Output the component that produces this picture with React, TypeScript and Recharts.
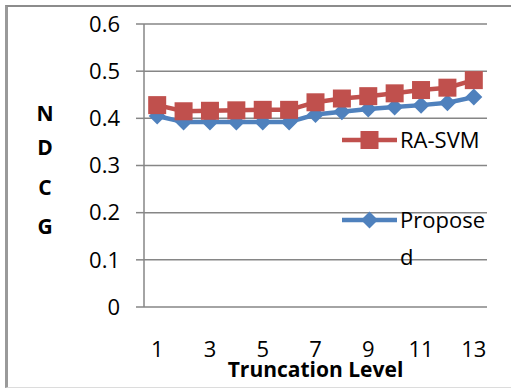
import React from 'react';
import { LineChart, Line, XAxis, YAxis, CartesianGrid } from 'recharts';

// Chart data
const levels = [1, 2, 3, 4, 5, 6, 7, 8, 9, 10, 11, 12, 13];
const raSvm = [0.428, 0.415, 0.416, 0.417, 0.418, 0.418, 0.434, 0.442, 0.447, 0.453, 0.46, 0.465, 0.481];
const proposed = [0.405, 0.392, 0.392, 0.392, 0.392, 0.392, 0.408, 0.414, 0.42, 0.424, 0.428, 0.433, 0.445];
const yTicks = [0, 0.1, 0.2, 0.3, 0.4, 0.5, 0.6];
const xMarks = [0.5, 1.5, 2.5, 3.5, 4.5, 5.5, 6.5, 7.5, 8.5, 9.5, 10.5, 11.5, 12.5, 13.5];
const xLabels = [1, 3, 5, 7, 9, 11, 13];
const yTitle = ['N', 'D', 'C', 'G'];

const data = levels.map((level, i) => ({
  level,
  raSvm: raSvm[i],
  proposed: proposed[i],
}));

const RED = '#C0504D';
const BLUE = '#4F81BD';
const GRID = '#868686';
const FONT = '"Open Sans", sans-serif';

const SquareDot = ({ cx, cy }: any) => {
  if (cx == null || cy == null) return null;
  return <rect x={cx - 9} y={cy - 9} width={18} height={18} fill={RED} />;
};

const DiamondDot = ({ cx, cy }: any) => {
  if (cx == null || cy == null) return null;
  return (
    <polygon
      points={`${cx},${cy - 8.5} ${cx + 8.5},${cy} ${cx},${cy + 8.5} ${cx - 8.5},${cy}`}
      fill={BLUE}
    />
  );
};

// Legend drawn like the Excel one: line with marker, text wraps "Propose" / "d"
const ChartLegend = () => (
  <svg width={170} height={150} style={{ position: 'absolute', left: 342, top: 128, overflow: 'visible' }}>
    <line x1={0} y1={12} x2={55} y2={12} stroke={RED} strokeWidth={4.5} />
    <rect x={18.5} y={3} width={18} height={18} fill={RED} />
    <text x={58} y={20} fontSize={22} fontFamily={FONT} fill="#000">RA-SVM</text>
    <line x1={0} y1={92} x2={55} y2={92} stroke={BLUE} strokeWidth={4.5} />
    <polygon points="27.5,83.5 36,92 27.5,100.5 19,92" fill={BLUE} />
    <text x={58} y={100} fontSize={22} fontFamily={FONT} fill="#000">
      <tspan x={58}>Propose</tspan>
      <tspan x={58} dy={37}>d</tspan>
    </text>
  </svg>
);

const YTitle = () => (
  <text fontSize={21} fontWeight="bold" fontFamily={FONT} fill="#000" textAnchor="middle">
    {yTitle.map((ch, i) => (
      <tspan key={ch} x={45} y={[121, 155, 195, 234][i]}>{ch}</tspan>
    ))}
  </text>
);

export default function App() {
  return (
    <div style={{ position: 'absolute', left: 0, top: 0, width: 511, height: 388, background: '#fff', overflow: 'hidden' }}>
      <div
        style={{
          position: 'absolute',
          left: 5,
          top: 5,
          width: 530,
          height: 380,
          borderLeft: '3px solid #9a9a9a',
          borderTop: '2px solid #8c8c8c',
          borderBottom: '1px solid #dcdcdc',
        }}
      />
      <LineChart
        width={511}
        height={388}
        data={data}
        margin={{ top: 24, right: 24, bottom: 0, left: 0 }}
        style={{ position: 'absolute', left: 0, top: 0 }}
      >
        <CartesianGrid horizontal vertical={false} stroke={GRID} strokeWidth={1.5} />
        <XAxis
          xAxisId="marks"
          dataKey="level"
          type="number"
          domain={[0.5, 13.5]}
          ticks={xMarks}
          tick={false}
          tickSize={7}
          height={0}
          stroke={GRID}
          strokeWidth={1.5}
        />
        <XAxis
          xAxisId="labels"
          dataKey="level"
          type="number"
          domain={[0.5, 13.5]}
          ticks={xLabels}
          interval={0}
          axisLine={false}
          tickLine={false}
          tickMargin={28}
          height={81}
          tick={{ fontSize: 22, fontFamily: FONT, fill: '#000' }}
          label={{
            value: 'Truncation Level',
            position: 'insideBottom',
            offset: 11,
            fontSize: 21,
            fontWeight: 'bold',
            fontFamily: FONT,
            fill: '#000',
          }}
        />
        <YAxis
          domain={[0, 0.6]}
          ticks={yTicks}
          interval={0}
          width={144}
          tickSize={8}
          tickMargin={16}
          stroke={GRID}
          strokeWidth={1.5}
          tick={{ fontSize: 22, fontFamily: FONT, fill: '#000' }}
          label={<YTitle />}
        />
        <Line
          xAxisId="marks"
          dataKey="proposed"
          stroke={BLUE}
          strokeWidth={4.5}
          dot={<DiamondDot />}
          isAnimationActive={false}
        />
        <Line
          xAxisId="marks"
          dataKey="raSvm"
          stroke={RED}
          strokeWidth={4.5}
          dot={<SquareDot />}
          isAnimationActive={false}
        />
      </LineChart>
      <ChartLegend />
    </div>
  );
}
